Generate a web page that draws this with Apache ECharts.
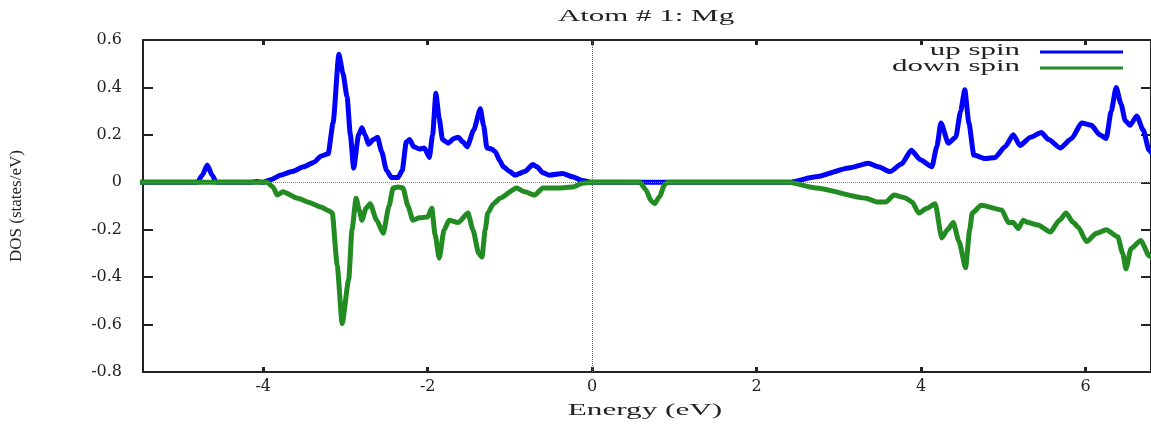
<!DOCTYPE html>
<html>
<head>
<meta charset="utf-8">
<script src="https://cdn.jsdelivr.net/npm/echarts@6/dist/echarts.min.js"></script>
<style>
html,body{margin:0;padding:0;background:#fff;}
#chart{width:1151px;height:425px;}
</style>
</head>
<body>
<div id="chart"></div>
<script>
// ---- data ----
const titleText = 'Atom # 1: Mg';
const xName = 'Energy (eV)';
const yName = 'DOS (states/eV)';
const seriesNames = ['up spin', 'down spin'];
const xTicks = [-4, -2, 0, 2, 4, 6];

const upEnergy = [-5.5, -4.80, -4.74, -4.68, -4.62, -4.57, -4.15, -4.08, -4.00, -3.90, -3.79, -3.65, -3.51, -3.38, -3.30, -3.21, -3.15, -3.08, -3.03, -2.98, -2.94, -2.90, -2.84, -2.80, -2.76, -2.72, -2.66, -2.61, -2.56, -2.50, -2.44, -2.36, -2.31, -2.26, -2.22, -2.17, -2.10, -2.04, -1.98, -1.94, -1.90, -1.86, -1.82, -1.75, -1.68, -1.63, -1.57, -1.52, -1.44, -1.36, -1.32, -1.28, -1.22, -1.18, -1.12, -1.08, -1.00, -0.94, -0.82, -0.72, -0.67, -0.60, -0.52, -0.36, -0.24, -0.12, 0.00, 2.39, 2.72, 3.12, 3.36, 3.48, 3.62, 3.76, 3.88, 3.99, 4.13, 4.19, 4.24, 4.33, 4.42, 4.48, 4.53, 4.58, 4.64, 4.78, 4.90, 5.02, 5.12, 5.20, 5.33, 5.46, 5.55, 5.69, 5.83, 5.95, 6.07, 6.17, 6.25, 6.31, 6.37, 6.43, 6.48, 6.54, 6.62, 6.70, 6.77, 6.85];
const upDos = [0, 0, 0.03, 0.073, 0.03, 0, 0, 0.003, 0, 0.012, 0.03, 0.045, 0.065, 0.085, 0.11, 0.12, 0.25, 0.54, 0.46, 0.36, 0.2, 0.06, 0.2, 0.23, 0.2, 0.16, 0.18, 0.19, 0.13, 0.05, 0.02, 0.02, 0.05, 0.17, 0.18, 0.15, 0.14, 0.145, 0.105, 0.2, 0.375, 0.27, 0.18, 0.165, 0.185, 0.19, 0.17, 0.15, 0.22, 0.31, 0.24, 0.145, 0.14, 0.13, 0.09, 0.065, 0.045, 0.03, 0.045, 0.075, 0.065, 0.04, 0.03, 0.037, 0.023, 0.008, 0, 0, 0.023, 0.06, 0.08, 0.065, 0.045, 0.077, 0.135, 0.095, 0.065, 0.15, 0.25, 0.165, 0.19, 0.3, 0.39, 0.25, 0.115, 0.10, 0.105, 0.15, 0.2, 0.155, 0.19, 0.21, 0.18, 0.145, 0.185, 0.25, 0.24, 0.2, 0.185, 0.3, 0.40, 0.33, 0.26, 0.24, 0.28, 0.22, 0.135, 0.10];

const downEnergy = [-5.5, -3.95, -3.88, -3.83, -3.76, -3.58, -3.44, -3.30, -3.20, -3.16, -3.10, -3.04, -2.96, -2.92, -2.87, -2.83, -2.80, -2.75, -2.70, -2.62, -2.54, -2.47, -2.42, -2.36, -2.30, -2.24, -2.18, -2.10, -2.00, -1.95, -1.91, -1.86, -1.80, -1.74, -1.63, -1.51, -1.45, -1.38, -1.34, -1.30, -1.27, -1.20, -1.12, -0.92, -0.82, -0.70, -0.60, -0.40, -0.24, -0.12, 0.00, 0.58, 0.65, 0.72, 0.76, 0.82, 0.88, 0.92, 2.39, 2.72, 3.33, 3.46, 3.57, 3.67, 3.80, 3.89, 3.97, 4.07, 4.17, 4.25, 4.32, 4.39, 4.46, 4.54, 4.59, 4.62, 4.73, 4.98, 5.06, 5.12, 5.18, 5.24, 5.30, 5.42, 5.57, 5.68, 5.76, 5.85, 5.91, 6.01, 6.13, 6.25, 6.39, 6.45, 6.49, 6.55, 6.67, 6.77, 6.85];
const downDos = [0, 0, -0.02, -0.054, -0.04, -0.067, -0.085, -0.104, -0.12, -0.13, -0.35, -0.595, -0.41, -0.2, -0.067, -0.12, -0.16, -0.11, -0.09, -0.16, -0.215, -0.1, -0.024, -0.02, -0.024, -0.1, -0.16, -0.15, -0.146, -0.11, -0.22, -0.32, -0.2, -0.16, -0.17, -0.13, -0.2, -0.3, -0.315, -0.2, -0.13, -0.09, -0.067, -0.024, -0.04, -0.054, -0.024, -0.024, -0.02, -0.004, 0, 0, -0.03, -0.08, -0.09, -0.06, -0.01, 0, 0, -0.024, -0.067, -0.083, -0.083, -0.054, -0.065, -0.083, -0.13, -0.11, -0.09, -0.235, -0.2, -0.17, -0.25, -0.36, -0.2, -0.13, -0.097, -0.117, -0.17, -0.17, -0.195, -0.16, -0.17, -0.18, -0.21, -0.16, -0.13, -0.17, -0.19, -0.25, -0.215, -0.2, -0.23, -0.3, -0.365, -0.28, -0.245, -0.31, -0.33];

// ---- chart ----
const zip = (xs, ys) => xs.map((x, i) => [x, ys[i]]);
const serif = 'Liberation Serif';
const frame = '#222';
const chart = echarts.init(document.getElementById('chart'), null, {renderer: 'canvas'});

const xBase = {
  type: 'value', min: -5.461, max: 6.794,
  axisLine: {show: true, onZero: false, lineStyle: {color: frame, width: 2}},
  axisTick: {show: true, inside: true, length: 5, customValues: xTicks, lineStyle: {color: frame, width: 3}},
  splitLine: {show: false}
};
const yBase = {
  type: 'value', min: -0.8, max: 0.6, interval: 0.2,
  axisLine: {show: true, onZero: false, lineStyle: {color: frame, width: 2}},
  axisTick: {show: true, inside: true, length: 10, lineStyle: {color: frame, width: 2}},
  splitLine: {show: false}
};

chart.setOption({
  animation: false,
  backgroundColor: '#fff',
  grid: {left: 142, right: -2, top: 40, bottom: 53},
  xAxis: [
    Object.assign({}, xBase, {position: 'bottom',
      axisLabel: {show: true, customValues: xTicks, margin: 7, fontFamily: 'DejaVu Serif', fontSize: 16, color: frame}}),
    Object.assign({}, xBase, {position: 'top', axisLabel: {show: false}})
  ],
  yAxis: [
    Object.assign({}, yBase, {position: 'left',
      axisLabel: {show: true, margin: 21, fontFamily: 'DejaVu Serif', fontSize: 16, color: frame},
      name: yName, nameLocation: 'middle', nameRotate: 90, nameGap: 118,
      nameTextStyle: {fontFamily: serif, fontSize: 17, color: frame}}),
    Object.assign({}, yBase, {position: 'right', axisLabel: {show: false}})
  ],
  graphic: [
    {type: 'text', x: 646, y: 17, scaleX: 1.82, z: 10,
      style: {text: titleText, font: '17px "Liberation Serif"', fill: frame, align: 'center', verticalAlign: 'middle'}},
    {type: 'text', x: 645, y: 411, scaleX: 1.95, z: 10,
      style: {text: xName, font: '16px "Liberation Serif"', fill: frame, align: 'center', verticalAlign: 'middle'}},
    {type: 'text', x: 1020, y: 51, scaleX: 1.82, z: 10,
      style: {text: seriesNames[0], font: '17px "Liberation Serif"', fill: frame, align: 'right', verticalAlign: 'middle'}},
    {type: 'text', x: 1020, y: 67, scaleX: 1.82, z: 10,
      style: {text: seriesNames[1], font: '17px "Liberation Serif"', fill: frame, align: 'right', verticalAlign: 'middle'}},
    {type: 'line', z: 10, shape: {x1: 1040, y1: 52, x2: 1123, y2: 52}, style: {stroke: '#0000ff', lineWidth: 3}},
    {type: 'line', z: 10, shape: {x1: 1040, y1: 68, x2: 1123, y2: 68}, style: {stroke: '#228b22', lineWidth: 3}}
  ],
  series: [
    {
      type: 'line', name: 'zero', data: [], z: 1, silent: true,
      markLine: {
        symbol: ['none', 'none'], silent: true, label: {show: false}, animation: false,
        data: [
          {yAxis: 0, lineStyle: {color: '#dd44ff', type: 'dotted', width: 1}},
          {xAxis: 0, lineStyle: {color: '#666', type: 'dotted', width: 1}}
        ]
      }
    },
    {
      type: 'line', name: seriesNames[0], data: zip(upEnergy, upDos), z: 2,
      showSymbol: false, symbol: 'none', smooth: 0.2, smoothMonotone: 'x',
      lineStyle: {color: '#0000ff', width: 5, cap: 'round', join: 'round'}, itemStyle: {color: '#0000ff'}
    },
    {
      type: 'line', name: seriesNames[1], data: zip(downEnergy, downDos), z: 3,
      showSymbol: false, symbol: 'none', smooth: 0.2, smoothMonotone: 'x',
      lineStyle: {color: '#228b22', width: 5, cap: 'round', join: 'round'}, itemStyle: {color: '#228b22'}
    }
  ]
});
</script>
</body>
</html>
